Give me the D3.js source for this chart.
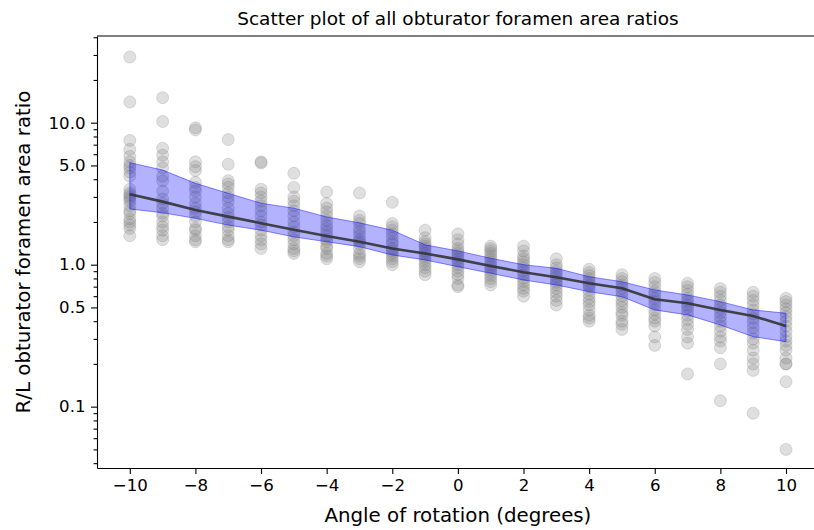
<!DOCTYPE html>
<html>
<head>
<meta charset="utf-8">
<script src="https://cdn.jsdelivr.net/npm/d3@7"></script>
<style>
  html, body { margin: 0; padding: 0; background: #fff; }
  svg { display: block; font-family: "DejaVu Sans", sans-serif; }
</style>
</head>
<body>
<svg id="chart" width="814" height="530"></svg>
<script>
// ---- data ----
const angles = [-10,-9,-8,-7,-6,-5,-4,-3,-2,-1,0,1,2,3,4,5,6,7,8,9,10];

const ratiosByAngle = [
  [29, 14, 7.5, 6.5, 5.8, 5.3, 4.8, 4.5, 4.2, 3.4, 3.1, 3.0, 2.8, 2.6, 2.4, 2.3, 2.1, 2.0, 1.9, 1.8, 1.6, 3.2, 5.0, 2.9],
  [15, 10.2, 6.6, 5.9, 5.3, 4.8, 4.2, 3.9, 3.3, 2.9, 2.7, 2.5, 2.3, 2.2, 2.0, 1.85, 1.75, 1.6, 1.5],
  [9.2, 8.9, 5.3, 4.9, 4.6, 3.8, 3.5, 3.3, 3.0, 2.7, 2.5, 2.35, 2.2, 2.0, 1.8, 1.75, 1.6, 1.5, 1.45],
  [7.6, 5.1, 3.9, 3.7, 3.5, 3.2, 3.0, 2.8, 2.5, 2.3, 2.15, 2.0, 1.85, 1.75, 1.6, 1.5, 1.45],
  [5.3, 5.2, 3.4, 3.2, 3.0, 2.8, 2.6, 2.4, 2.2, 2.0, 1.9, 1.75, 1.6, 1.5, 1.4, 1.3],
  [4.4, 3.5, 3.0, 2.8, 2.6, 2.4, 2.2, 2.0, 1.85, 1.7, 1.6, 1.5, 1.4, 1.3, 1.25, 1.2],
  [3.25, 2.7, 2.5, 2.35, 2.2, 2.05, 1.9, 1.8, 1.7, 1.6, 1.5, 1.45, 1.35, 1.3, 1.2, 1.15, 1.1],
  [3.2, 2.2, 2.05, 1.95, 1.8, 1.7, 1.6, 1.5, 1.45, 1.4, 1.3, 1.2, 1.15, 1.1, 1.05],
  [2.75, 1.95, 1.85, 1.75, 1.65, 1.55, 1.45, 1.4, 1.3, 1.25, 1.2, 1.15, 1.1, 1.05, 1.0],
  [1.75, 1.55, 1.45, 1.4, 1.35, 1.3, 1.25, 1.2, 1.15, 1.1, 1.05, 1.0, 0.95, 0.9, 0.85],
  [1.65, 1.5, 1.4, 1.3, 1.25, 1.2, 1.15, 1.1, 1.05, 1.0, 0.95, 0.9, 0.85, 0.8, 0.72, 0.7],
  [1.35, 1.3, 1.25, 1.2, 1.15, 1.1, 1.05, 1.0, 0.96, 0.92, 0.88, 0.84, 0.8, 0.76, 0.72],
  [1.35, 1.25, 1.15, 1.1, 1.05, 1.0, 0.95, 0.9, 0.85, 0.8, 0.76, 0.72, 0.68, 0.65, 0.6],
  [1.1, 1.0, 0.95, 0.9, 0.86, 0.82, 0.78, 0.75, 0.72, 0.68, 0.64, 0.6, 0.56, 0.52],
  [0.93, 0.88, 0.84, 0.8, 0.76, 0.72, 0.7, 0.66, 0.62, 0.58, 0.55, 0.52, 0.48, 0.44, 0.42, 0.4],
  [0.85, 0.8, 0.76, 0.72, 0.68, 0.64, 0.6, 0.56, 0.53, 0.5, 0.46, 0.44, 0.4, 0.38, 0.35],
  [0.8, 0.75, 0.7, 0.65, 0.62, 0.58, 0.55, 0.52, 0.48, 0.45, 0.42, 0.4, 0.37, 0.31, 0.27],
  [0.74, 0.7, 0.66, 0.62, 0.58, 0.55, 0.52, 0.5, 0.47, 0.44, 0.41, 0.38, 0.35, 0.31, 0.28, 0.17],
  [0.68, 0.64, 0.6, 0.56, 0.52, 0.49, 0.46, 0.43, 0.4, 0.37, 0.34, 0.31, 0.29, 0.26, 0.2, 0.11],
  [0.64, 0.6, 0.56, 0.52, 0.48, 0.45, 0.42, 0.39, 0.36, 0.33, 0.3, 0.28, 0.25, 0.22, 0.2, 0.18, 0.09],
  [0.58, 0.55, 0.52, 0.49, 0.46, 0.43, 0.4, 0.37, 0.34, 0.31, 0.29, 0.27, 0.25, 0.22, 0.2, 0.2, 0.15, 0.05]
];

const centralLine = [3.13, 2.78, 2.43, 2.18, 1.96, 1.76, 1.59, 1.45, 1.30, 1.20, 1.09, 0.98, 0.884, 0.815, 0.74, 0.682, 0.571, 0.535, 0.48, 0.435, 0.37];
const bandUpper   = [5.23, 4.64, 3.74, 3.18, 2.71, 2.50, 2.17, 1.97, 1.75, 1.38, 1.25, 1.11, 1.0, 0.943, 0.823, 0.759, 0.664, 0.612, 0.549, 0.48, 0.455];
const bandLower   = [2.47, 2.32, 2.12, 1.90, 1.75, 1.57, 1.45, 1.34, 1.17, 1.08, 0.968, 0.87, 0.78, 0.72, 0.645, 0.595, 0.48, 0.443, 0.376, 0.311, 0.287];

const xTicks = [-10, -8, -6, -4, -2, 0, 2, 4, 6, 8, 10];
const yTicksMajor = [0.1, 0.5, 1, 5, 10];
const yTicksMinor = [0.04,0.05,0.06,0.07,0.08,0.09,0.2,0.3,0.4,0.6,0.7,0.8,0.9,2,3,4,6,7,8,9,20,30,40];

const titleText = "Scatter plot of all obturator foramen area ratios";
const xLabelText = "Angle of rotation (degrees)";
const yLabelText = "R/L obturator foramen area ratio";

// ---- layout ----
const L = 97, R = 818.8, T = 36, B = 468;
const svg = d3.select("#chart");

const x = d3.scaleLinear().domain([-11, 11]).range([L, R]);
const y = d3.scaleLog().domain([Math.pow(10, -1.432), Math.pow(10, 1.6106)]).range([B, T]);

// points
const pts = [];
angles.forEach((a, i) => ratiosByAngle[i].forEach(v => pts.push({a, v})));
svg.append("g").selectAll("circle").data(pts).join("circle")
  .attr("cx", d => x(d.a)).attr("cy", d => y(d.v)).attr("r", 6)
  .attr("fill", "#808080").attr("fill-opacity", 0.25)
  .attr("stroke", "#808080").attr("stroke-opacity", 0.25).attr("stroke-width", 1);

// band
const bandData = angles.map((a, i) => ({a, lo: bandLower[i], hi: bandUpper[i]}));
svg.append("path").datum(bandData)
  .attr("d", d3.area().x(d => x(d.a)).y0(d => y(d.lo)).y1(d => y(d.hi)))
  .attr("fill", "#0000ff").attr("fill-opacity", 0.3)
  .attr("stroke", "#0000ff").attr("stroke-opacity", 0.45).attr("stroke-width", 1);

// central line
svg.append("path").datum(angles.map((a, i) => ({a, v: centralLine[i]})))
  .attr("d", d3.line().x(d => x(d.a)).y(d => y(d.v)))
  .attr("fill", "none").attr("stroke", "#333333").attr("stroke-opacity", 0.9)
  .attr("stroke-width", 2.6).attr("stroke-linejoin", "round");

// axes
const tickFont = 16.6;
const labelFont = 19.8;
const xAxis = svg.append("g").attr("transform", `translate(0,${B})`)
  .call(d3.axisBottom(x).tickValues(xTicks).tickSize(6).tickPadding(5.5).tickSizeOuter(0));
const yAxisMinor = svg.append("g").attr("transform", `translate(${L},0)`)
  .call(d3.axisLeft(y).tickValues(yTicksMinor).tickSize(3.4).tickFormat("").tickSizeOuter(0));
yAxisMinor.select(".domain").remove();
const yAxis = svg.append("g").attr("transform", `translate(${L},0)`)
  .call(d3.axisLeft(y).tickValues(yTicksMajor).tickSize(6).tickPadding(5.5).tickSizeOuter(0)
    .tickFormat(d3.format(".1f")));

[xAxis, yAxis, yAxisMinor].forEach(g => {
  g.selectAll("text").attr("font-size", tickFont).attr("font-family", "DejaVu Sans").attr("fill", "#000");
  g.selectAll("line").attr("stroke", "#000").attr("stroke-width", 1.1);
  g.selectAll(".domain").attr("stroke", "#000").attr("stroke-width", 1.1);
});

// top spine
svg.append("line").attr("x1", L).attr("x2", R).attr("y1", T).attr("y2", T)
  .attr("stroke", "#000").attr("stroke-width", 1.1);
// right spine (off canvas)
svg.append("line").attr("x1", R).attr("x2", R).attr("y1", T).attr("y2", B)
  .attr("stroke", "#000").attr("stroke-width", 1.1);

// labels
svg.append("text").attr("x", (L + R) / 2).attr("y", 25).attr("text-anchor", "middle")
  .attr("font-size", 18.5).text(titleText);
svg.append("text").attr("x", (L + R) / 2).attr("y", 522).attr("text-anchor", "middle")
  .attr("font-size", labelFont).text(xLabelText);
svg.append("text").attr("transform", `translate(30,${(T + B) / 2}) rotate(-90)`)
  .attr("text-anchor", "middle").attr("font-size", labelFont).text(yLabelText);
</script>
</body>
</html>
